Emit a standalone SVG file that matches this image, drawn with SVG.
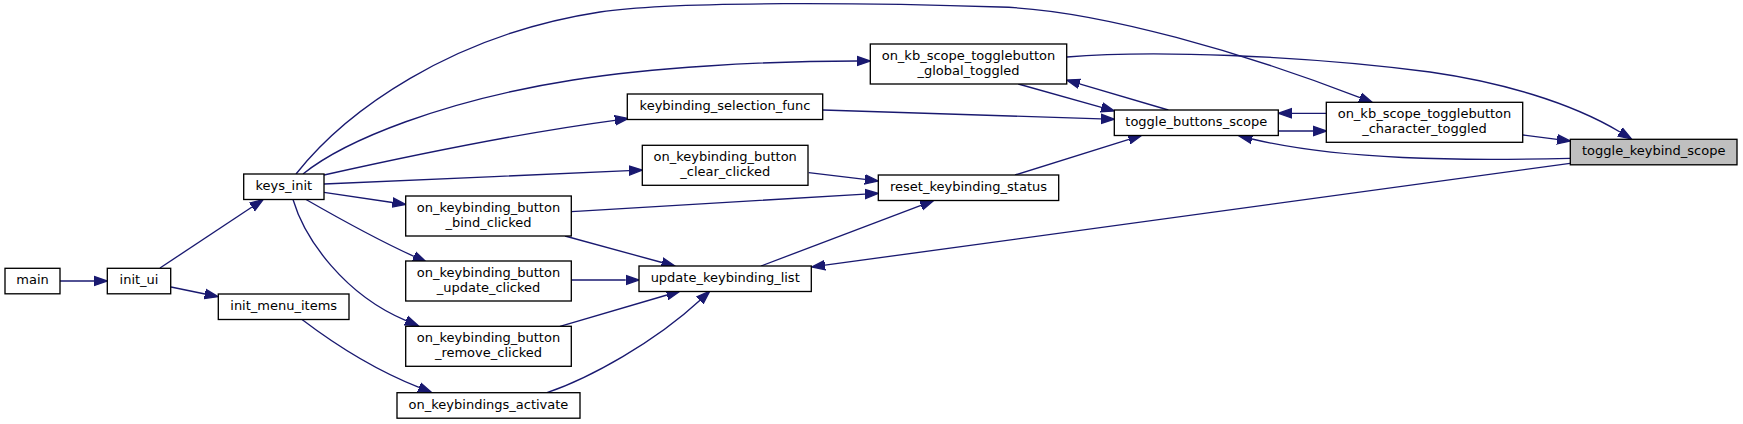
<svg xmlns="http://www.w3.org/2000/svg" width="1743" height="424" viewBox="0 0 1743 424">
<style>
.n rect{fill:#ffffff;stroke:#000000;stroke-width:1.33}
.n.root rect{fill:#bfbfbf}
.n text{font-family:"DejaVu Sans","Liberation Sans",sans-serif;font-size:13px;fill:#000000;text-anchor:middle}
.e path{fill:none;stroke:#191970;stroke-width:1.33;marker-end:url(#ah)}
</style>
<defs>
<marker id="ah" markerUnits="userSpaceOnUse" markerWidth="16" markerHeight="12" refX="0" refY="6" orient="auto" viewBox="0 0 16 12">
<polygon points="0,1.33 13.33,6 0,10.67" fill="#191970" stroke="#191970" stroke-width="1.33"/>
</marker>
</defs>
<rect width="1743" height="424" fill="#ffffff"/>
<g id="edges" class="e">
<path d="M60,281 L94,281"/>
<path d="M160,268 L252,207"/>
<path d="M171,287 L205,294"/>
<path d="M302,319.5 C325,337 365,366 419,387.4"/>
<path d="M324,192.3 L392.5,202.5"/>
<path d="M306,199.5 C340,219 380,241 414,256.4"/>
<path d="M293,199.5 C305,240 345,295 406,320.6"/>
<path d="M324,184 C420,180 530,175 629,170.6"/>
<path d="M324,175 C400,158 520,133 615,120.3"/>
<path d="M303,174 C345,140 445,100 573,80 C650,68 760,61 857,61"/>
<path d="M296,174 C345,112 450,35 600,12 C675,0.5 880,3 1000,7 C1100,10 1250,55 1360,97.6"/>
<path d="M571,211.7 C680,205 790,198 865,194.1"/>
<path d="M565,236 L662,262.5"/>
<path d="M571.3,280 L625.7,280"/>
<path d="M560,326.3 L667,295"/>
<path d="M547,392.7 C590,378 655,342 700,300.3"/>
<path d="M808.7,172.7 L865,179.4"/>
<path d="M761,266 L921,205.4"/>
<path d="M1015,175 L1129,139.3"/>
<path d="M823,110 C900,113 1000,116.5 1101,118.9"/>
<path d="M1018.3,84 L1101.5,107.4"/>
<path d="M1168.3,110 L1079.5,83.8"/>
<path d="M1326.7,113.3 L1291.6,113.3"/>
<path d="M1278.3,131 L1313.3,131"/>
<path d="M1523,135 L1557.1,139.3"/>
<path d="M1570,158.3 C1460,161 1340,160 1252,139"/>
<path d="M1570,163.3 L825,265.2"/>
<path d="M1067,57 C1150,50 1300,55 1430,72 C1500,82 1570,102 1620,132"/>
</g>
<g id="node_main" class="n"><rect x="5" y="268.3" width="55" height="25.5"/><text x="32.5" y="284.3">main</text></g>
<g id="node_init_ui" class="n"><rect x="107.3" y="268.3" width="63.4" height="25.5"/><text x="139" y="284.3">init_ui</text></g>
<g id="node_keys_init" class="n"><rect x="243.7" y="174" width="80.3" height="25.5"/><text x="283.8" y="190">keys_init</text></g>
<g id="node_init_menu_items" class="n"><rect x="218.3" y="294" width="130.7" height="25.5"/><text x="283.7" y="310">init_menu_items</text></g>
<g id="node_bind" class="n"><rect x="405.7" y="196" width="165.6" height="40"/><text x="488.5" y="212">on_keybinding_button</text><text x="488.5" y="226.7">_bind_clicked</text></g>
<g id="node_update" class="n"><rect x="405.7" y="261" width="165.6" height="40"/><text x="488.5" y="277">on_keybinding_button</text><text x="488.5" y="291.7">_update_clicked</text></g>
<g id="node_remove" class="n"><rect x="405.7" y="326.3" width="165.6" height="40"/><text x="488.5" y="342.3">on_keybinding_button</text><text x="488.5" y="357">_remove_clicked</text></g>
<g id="node_on_keybindings_activate" class="n"><rect x="397" y="392.7" width="183" height="25.5"/><text x="488.5" y="408.7">on_keybindings_activate</text></g>
<g id="node_global_toggled" class="n"><rect x="870.3" y="44" width="196.4" height="40"/><text x="968.5" y="60">on_kb_scope_togglebutton</text><text x="968.5" y="74.7">_global_toggled</text></g>
<g id="node_keybinding_selection_func" class="n"><rect x="627.3" y="94" width="195.4" height="25.5"/><text x="725" y="110">keybinding_selection_func</text></g>
<g id="node_clear" class="n"><rect x="642.3" y="145.3" width="165.7" height="40"/><text x="725.2" y="161.3">on_keybinding_button</text><text x="725.2" y="176">_clear_clicked</text></g>
<g id="node_reset_keybinding_status" class="n"><rect x="878.3" y="175" width="180.4" height="25.5"/><text x="968.5" y="191">reset_keybinding_status</text></g>
<g id="node_update_keybinding_list" class="n"><rect x="639" y="266" width="172.3" height="25.5"/><text x="725.2" y="282">update_keybinding_list</text></g>
<g id="node_toggle_buttons_scope" class="n"><rect x="1114.3" y="110" width="164" height="25.5"/><text x="1196.3" y="126">toggle_buttons_scope</text></g>
<g id="node_character_toggled" class="n"><rect x="1326.3" y="102.3" width="196.4" height="40"/><text x="1424.5" y="118.3">on_kb_scope_togglebutton</text><text x="1424.5" y="133">_character_toggled</text></g>
<g id="node_toggle_keybind_scope" class="n root"><rect x="1570.3" y="139.3" width="166.7" height="25.5"/><text x="1653.7" y="155.3">toggle_keybind_scope</text></g>
</svg>
